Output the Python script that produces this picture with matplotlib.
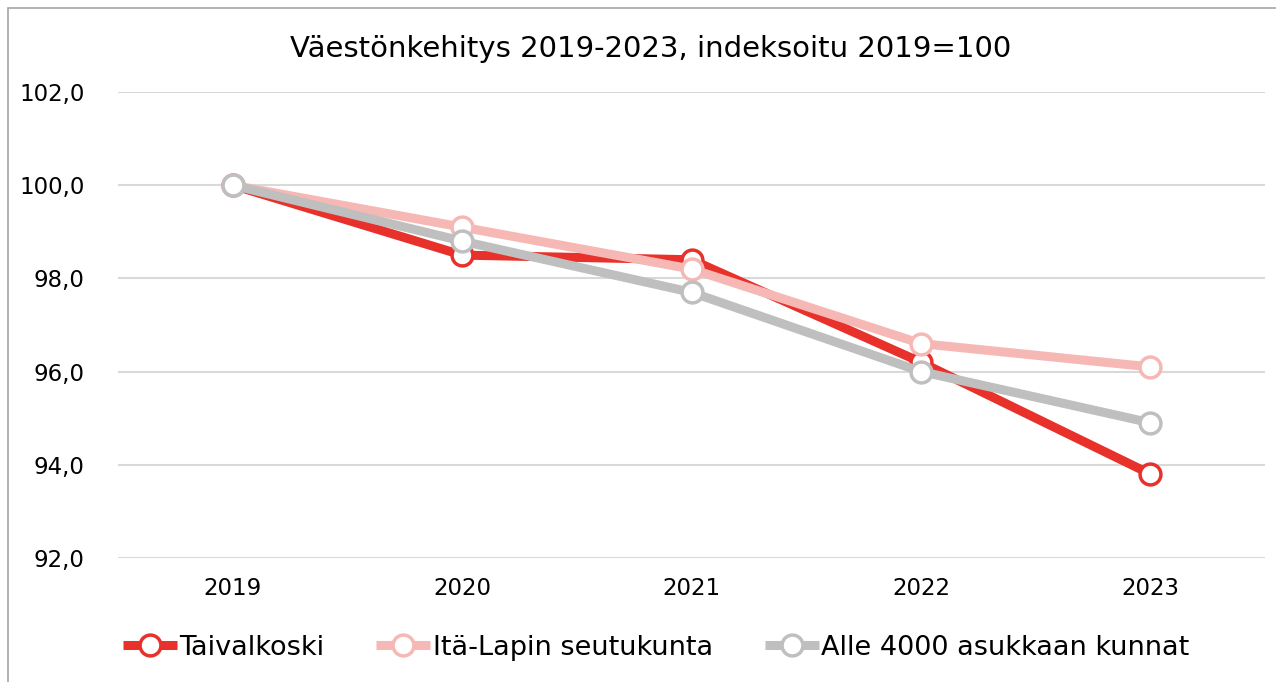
import matplotlib.pyplot as plt
from matplotlib.patches import Rectangle

plt.rcParams['font.family'] = ['DejaVu Sans']

years = ['2019', '2020', '2021', '2022', '2023']
taivalkoski = [100.0, 98.5, 98.4, 96.2, 93.8]
ita_lappi = [100.0, 99.1, 98.2, 96.6, 96.1]
alle_4000 = [100.0, 98.8, 97.7, 96.0, 94.9]
y_ticks = [92, 94, 96, 98, 100, 102]

fig = plt.figure(figsize=(12.76, 6.82), dpi=100)
ax = fig.add_axes([0.0925, 0.182, 0.899, 0.683])

# frame around the whole chart (right and bottom edges fall outside)
fig.patches.append(Rectangle((8 / 1276, -0.5), 3, 1.5 - 8 / 682,
                             transform=fig.transFigure, fill=False,
                             edgecolor='#A6A6A6', linewidth=1.2))

x = range(len(years))
series = [
    (taivalkoski, 'Taivalkoski', '#E8312A'),
    (ita_lappi, 'Itä-Lapin seutukunta', '#F6B8B5'),
    (alle_4000, 'Alle 4000 asukkaan kunnat', '#BFBFBF'),
]
for vals, name, col in series:
    ax.plot(x, vals, color=col, linewidth=6.5, marker='o', markersize=15,
            markerfacecolor='white', markeredgecolor=col, markeredgewidth=2.5,
            label=name, solid_capstyle='butt')

ax.set_xlim(-0.5, 4.5)
ax.set_ylim(92, 102)
ax.set_xticks(list(x))
ax.set_xticklabels(years)
ax.set_yticks(y_ticks)
ax.set_yticklabels([f'{v:.1f}'.replace('.', ',') for v in y_ticks])
ax.grid(axis='y', color='#D9D9D9', linewidth=1.5)
ax.set_axisbelow(True)
for s in ax.spines.values():
    s.set_visible(False)
ax.tick_params(length=0, labelsize=16.5, colors='black')
ax.tick_params(axis='x', pad=14)
ax.tick_params(axis='y', pad=24)

fig.text(0.51, 0.928, 'Väestönkehitys 2019-2023, indeksoitu 2019=100',
         ha='center', va='center', fontsize=21)

fig.legend(loc='center left', bbox_to_anchor=(0.077, 0.05), ncol=3,
           frameon=False, fontsize=19.5, handlelength=2.0, handletextpad=0.1,
           columnspacing=1.9)

fig.savefig('out.png', dpi=100)
